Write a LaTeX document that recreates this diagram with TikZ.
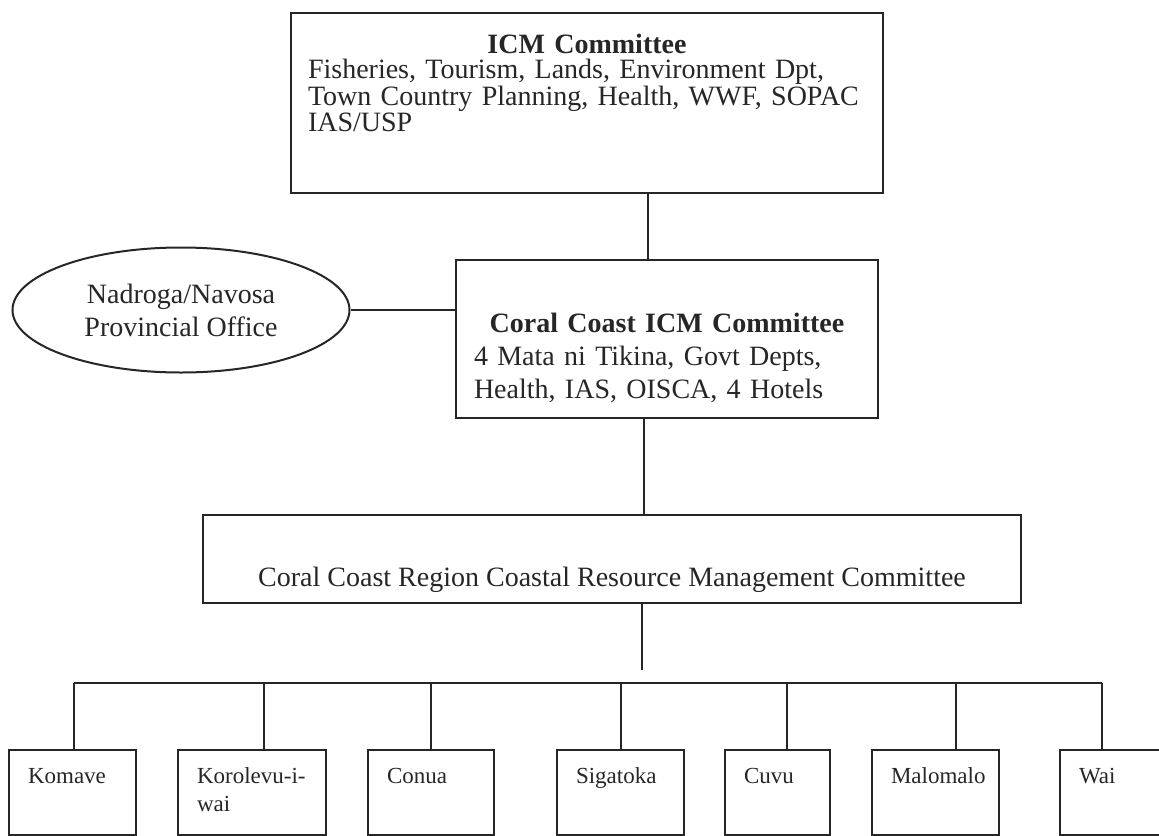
\documentclass[tikz,border=0pt]{standalone}
\usepackage{fontspec}
\setmainfont{Liberation Serif}
\usetikzlibrary{positioning,shapes.geometric}
\definecolor{ink}{gray}{0.15}

\begin{document}
\begin{tikzpicture}[x=0.5pt,y=-0.5pt,line width=1pt,color=ink,
                    font=\fontsize{14pt}{16.5pt}\selectfont]
\tikzstyle{box}=[draw,rectangle,inner sep=0pt]
\tikzstyle{place}=[box,anchor=north west,align=left,inner xsep=9.5pt,
                   text height=16.5pt,text depth=26pt,font=\fontsize{11.5pt}{14pt}\selectfont]

\useasboundingbox (0,0) rectangle (1159,835);

        \node[box,anchor=north west,align=left,inner xsep=8.5pt,text width=279pt,text height=20pt,text depth=70pt,
              font=\fontsize{14pt}{13pt}\selectfont]                        (icm)   at (290,12)
              {\makebox[279pt]{\bfseries ICM Committee}\\Fisheries, Tourism, Lands, Environment Dpt,\\Town Country Planning, Health, WWF, SOPAC\\IAS/USP};

        \node[box,anchor=north west,align=left,inner xsep=9pt,text width=193pt,text height=36pt,text depth=43pt]
                                                                            (ccicm) at (455,259)
              {\makebox[193pt]{\bfseries Coral Coast ICM Committee}\\4 Mata ni Tikina, Govt Depts,\\Health, IAS, OISCA, 4 Hotels};

        \node[ellipse,draw,inner sep=0pt,minimum width=168.5pt,minimum height=62.5pt,align=center]
                                                                            (prov)  at (181,310) {Nadroga/Navosa\\Provincial Office};

        \node[box,anchor=north west,minimum width=409pt,text height=35.5pt,text depth=8.5pt]
                                                                            (ccr)   at (202,514) {Coral Coast Region Coastal Resource Management Committee};

        % villages
        \node[place,text width=44.5pt]   (komave)   at (8,749)    {Komave};
        \node[place,text width=55pt]     (korolevu) at (177,749)  {Korolevu-i-\\wai};
        \node[place,text width=44pt]     (conua)    at (367,749)  {Conua};
        \node[place,text width=44.5pt]   (sigatoka) at (556,749)  {Sigatoka};
        \node[place,text width=33.5pt]   (cuvu)     at (724,749)  {Cuvu};
        \node[place,text width=44.5pt]   (malomalo) at (871,749)  {Malomalo};
        \node[place,text width=51.5pt]   (wai)      at (1059,749) {Wai};

        \coordinate (drop) at (642,670);
        \coordinate (t1) at (74,683);
        \coordinate (t2) at (264,683);
        \coordinate (t3) at (431,683);
        \coordinate (t4) at (621,683);
        \coordinate (t5) at (787,683);
        \coordinate (t6) at (956,683);
        \coordinate (t7) at (1102,683);

        \path
        (icm.south -| 648,0)   edge   (ccicm.north -| 648,0)
        (prov.east)            edge   (prov.east -| ccicm.west)
        (ccicm.south -| 644,0) edge   (ccr.north -| 644,0)
        (ccr.south -| 642,0)   edge   (drop)
        (t1)                   edge   (t7)
        (t1) edge (t1 |- komave.north)
        (t2) edge (t2 |- korolevu.north)
        (t3) edge (t3 |- conua.north)
        (t4) edge (t4 |- sigatoka.north)
        (t5) edge (t5 |- cuvu.north)
        (t6) edge (t6 |- malomalo.north)
        (t7) edge (t7 |- wai.north)
        ; %end path

\end{tikzpicture}
\end{document}
